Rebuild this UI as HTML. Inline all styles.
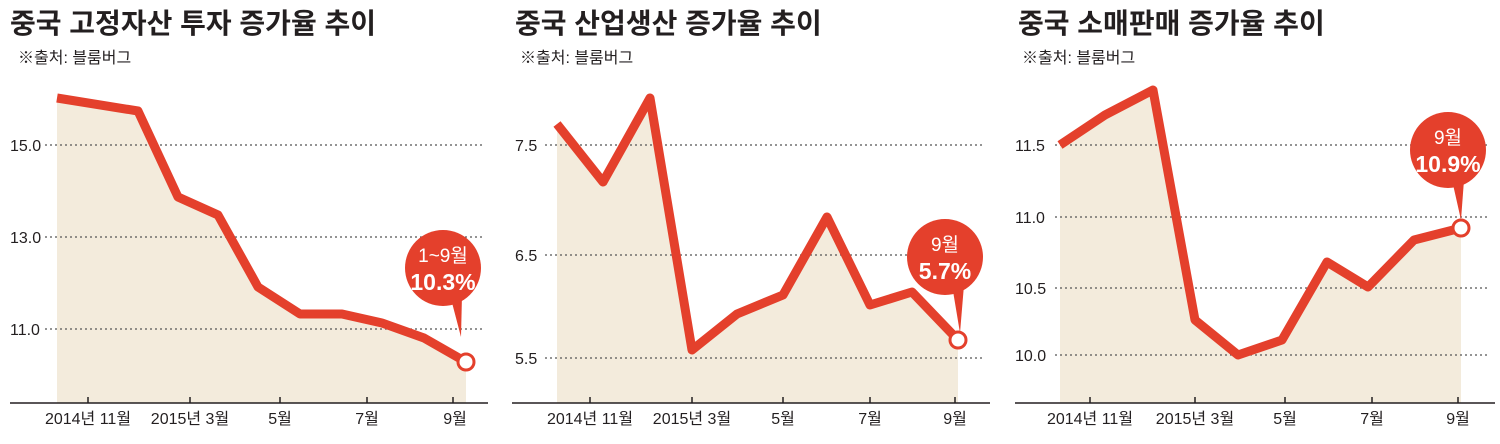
<!DOCTYPE html>
<html><head><meta charset="utf-8"><style>
html,body{margin:0;padding:0;background:#fff;}
svg{display:block;}
text{font-family:"Liberation Sans","Noto Sans CJK KR",sans-serif;}
</style></head><body>
<svg width="1500" height="444" viewBox="0 0 1500 444" xmlns="http://www.w3.org/2000/svg">
<g fill="#231f20">
<text x="10" y="33" font-size="28" font-weight="bold">중국 고정자산 투자 증가율 추이</text>
<text x="18" y="63" font-size="16">※출처: 블룸버그</text>
<text x="515" y="33" font-size="28" font-weight="bold">중국 산업생산 증가율 추이</text>
<text x="520" y="63" font-size="16">※출처: 블룸버그</text>
<text x="1018" y="33" font-size="28" font-weight="bold">중국 소매판매 증가율 추이</text>
<text x="1022" y="63" font-size="16">※출처: 블룸버그</text>
</g>
<!-- fills -->
<g fill="#f3ebdc">
<polygon points="57,98 138,111 178,197 218,215 258,287 300,314 342,314 382,323 424,338 466,362 466,403 57,403"/>
<polygon points="557,124 603,182 650,98 692,350 737,314 783,295 827,217 870,305 912,292 958,340 958,403 557,403"/>
<polygon points="1060,145 1105,115 1153,90 1195,320 1238,355 1282,340 1327,262 1368,287 1414,240 1461,228 1461,403 1060,403"/>
</g>
<!-- grid -->
<g stroke="#555" stroke-width="1.3" stroke-dasharray="2,3">
<line x1="45" y1="145" x2="482" y2="145"/><line x1="45" y1="237" x2="482" y2="237"/><line x1="45" y1="329" x2="482" y2="329"/>
<line x1="545" y1="145" x2="985" y2="145"/><line x1="545" y1="255" x2="985" y2="255"/><line x1="545" y1="358" x2="985" y2="358"/>
<line x1="1055" y1="145" x2="1490" y2="145"/><line x1="1055" y1="217" x2="1490" y2="217"/><line x1="1055" y1="288" x2="1490" y2="288"/><line x1="1055" y1="355" x2="1490" y2="355"/>
</g>
<g fill="#231f20" font-size="16">
<text x="10" y="151">15.0</text><text x="10" y="243">13.0</text><text x="10" y="335">11.0</text>
<text x="515" y="151">7.5</text><text x="515" y="261">6.5</text><text x="515" y="364">5.5</text>
<text x="1015" y="151">11.5</text><text x="1015" y="223">11.0</text><text x="1015" y="294">10.5</text><text x="1015" y="361">10.0</text>
</g>
<!-- axes -->
<g stroke="#231f20" stroke-width="1.5">
<line x1="10" y1="403" x2="488" y2="403"/><line x1="512" y1="403" x2="990" y2="403"/><line x1="1015" y1="403" x2="1495" y2="403"/>
<line x1="88" y1="397" x2="88" y2="403"/><line x1="190" y1="397" x2="190" y2="403"/><line x1="280" y1="397" x2="280" y2="403"/><line x1="367" y1="397" x2="367" y2="403"/><line x1="453" y1="397" x2="453" y2="403"/>
<line x1="590" y1="397" x2="590" y2="403"/><line x1="692" y1="397" x2="692" y2="403"/><line x1="783" y1="397" x2="783" y2="403"/><line x1="870" y1="397" x2="870" y2="403"/><line x1="955" y1="397" x2="955" y2="403"/>
<line x1="1090" y1="397" x2="1090" y2="403"/><line x1="1195" y1="397" x2="1195" y2="403"/><line x1="1285" y1="397" x2="1285" y2="403"/><line x1="1372" y1="397" x2="1372" y2="403"/><line x1="1458" y1="397" x2="1458" y2="403"/>
</g>
<g fill="#231f20" font-size="16" text-anchor="middle">
<text x="88" y="424">2014년 11월</text><text x="190" y="424">2015년 3월</text><text x="280" y="424">5월</text><text x="367" y="424">7월</text><text x="455" y="424">9월</text>
<text x="590" y="424">2014년 11월</text><text x="692" y="424">2015년 3월</text><text x="783" y="424">5월</text><text x="870" y="424">7월</text><text x="955" y="424">9월</text>
<text x="1090" y="424">2014년 11월</text><text x="1195" y="424">2015년 3월</text><text x="1285" y="424">5월</text><text x="1372" y="424">7월</text><text x="1458" y="424">9월</text>
</g>
<!-- lines -->
<g fill="none" stroke="#e4402c" stroke-width="9" stroke-linejoin="round">
<polyline points="57,98 138,111 178,197 218,215 258,287 300,314 342,314 382,323 424,338 466,362"/>
<polyline points="557,124 603,182 650,98 692,350 737,314 783,295 827,217 870,305 912,292 958,340"/>
<polyline points="1060,145 1105,115 1153,90 1195,320 1238,355 1282,340 1327,262 1368,287 1414,240 1461,228"/>
</g>
<!-- bubbles -->
<g fill="#e4402c">
<circle cx="443" cy="268" r="38"/><polygon points="450,295 462,295 461,337"/>
<circle cx="945" cy="257" r="38"/><polygon points="952,285 964,285 960,333"/>
<circle cx="1448" cy="150" r="38"/><polygon points="1452,180 1464,180 1461,220"/>
</g>
<g fill="#fff" stroke="#e4402c" stroke-width="3">
<circle cx="466" cy="362" r="8"/><circle cx="958" cy="340" r="8"/><circle cx="1461" cy="228" r="8"/>
</g>
<g fill="#fff" text-anchor="middle">
<text x="443" y="262" font-size="19">1~9월</text><text x="443" y="290" font-size="23" font-weight="bold">10.3%</text>
<text x="945" y="251" font-size="19">9월</text><text x="945" y="279" font-size="23" font-weight="bold">5.7%</text>
<text x="1448" y="144" font-size="19">9월</text><text x="1448" y="172" font-size="23" font-weight="bold">10.9%</text>
</g>
</svg>
</body></html>
